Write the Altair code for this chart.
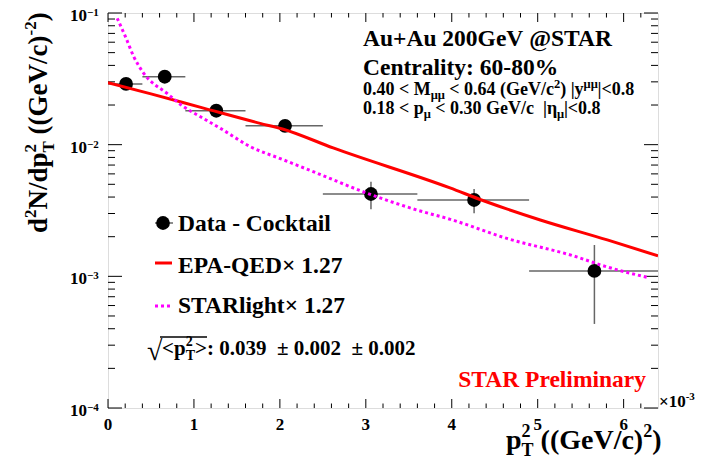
import altair as alt
import pandas as pd

FONT = "Liberation Serif"

# ---------------- data (x in units of 1e-3 (GeV/c)^2) ----------------
pt2 = [0.21, 0.66, 1.26, 2.06, 3.06, 4.26, 5.66]
pt2_lo = [0.0, 0.4, 0.9, 1.6, 2.5, 3.6, 4.9]
pt2_hi = [0.4, 0.9, 1.6, 2.5, 3.6, 4.9, 6.4]
yld = [0.0289, 0.0328, 0.0181, 0.0139, 0.00422, 0.00380, 0.00110]
yld_lo = [0.0277, 0.0314, 0.0173, 0.0133, 0.00323, 0.00301, 0.000435]
yld_hi = [0.0301, 0.0342, 0.0189, 0.0145, 0.00523, 0.00460, 0.00173]

epa_x = [0.0, 0.5, 1.08, 1.77, 2.04, 2.62, 3.98, 4.37, 5.03, 5.81, 6.4]
epa_y = [0.0296, 0.0243, 0.0192, 0.01452, 0.0131, 0.00944, 0.00469, 0.00375, 0.00268, 0.00189, 0.00143]

sl_x = [0.107, 0.203, 0.300, 0.416, 0.688, 0.881, 1.076, 1.308, 1.657, 2.044,
        2.433, 3.014, 3.595, 3.983, 4.642, 5.416, 5.805, 6.27]
sl_y = [0.0912, 0.0661, 0.0466, 0.0348, 0.0245, 0.0194, 0.0163, 0.0133, 0.00966, 0.00766,
        0.00607, 0.00428, 0.00319, 0.00271, 0.00194, 0.00143, 0.00118, 0.000984]

x_major = [0, 1, 2, 3, 4, 5, 6]
x_major_lab = ["0", "1", "2", "3", "4", "5", "6"]
x_minor = [0.2, 0.4, 0.6, 0.8, 1.2, 1.4, 1.6, 1.8, 2.2, 2.4, 2.6, 2.8, 3.2, 3.4, 3.6, 3.8,
           4.2, 4.4, 4.6, 4.8, 5.2, 5.4, 5.6, 5.8, 6.2]
y_major = [1e-4, 1e-3, 1e-2, 1e-1]
y_major_exp = ["\u22124", "\u22123", "\u22122", "\u22121"]
y_minor = [k * 10.0 ** e for e in (-4, -3, -2) for k in range(2, 10)]

W_PLOT, H_PLOT = 550, 395

XS = alt.Scale(domain=[0, 6.4], nice=False, zero=False)
YS = alt.Scale(type="log", domain=[1e-4, 1e-1], nice=False)


def X(f):
    return alt.X(f, type="quantitative", scale=XS, axis=None)


def Y(f):
    return alt.Y(f, type="quantitative", scale=YS, axis=None)


pts = pd.DataFrame({"x": pt2, "lo": pt2_lo, "hi": pt2_hi, "y": yld, "ylo": yld_lo, "yhi": yld_hi})
df_epa = pd.DataFrame({"x": epa_x, "y": epa_y})
df_sl = pd.DataFrame({"x": sl_x, "y": sl_y})
df_xmaj = pd.DataFrame({"v": x_major, "lab": x_major_lab})
df_xmin = pd.DataFrame({"v": x_minor})
df_ymaj = pd.DataFrame({"v": y_major, "exp": y_major_exp})
df_ymin = pd.DataFrame({"v": y_minor})

ONE = pd.DataFrame({"a": [0]})

# Times/Liberation Serif Bold advance widths (1/1000 em)
WID = {" ": 250, "\u00a0": 250, "%": 1000, "(": 333, ")": 333, "+": 570, "-": 333, ".": 250,
       "/": 278, ":": 333, "<": 570, ">": 570, "@": 930, "|": 220, "\u00d7": 570, "\u00b1": 570,
       "\u03bc": 556, "\u03b7": 556, "\u2212": 570,
       "A": 722, "C": 722, "D": 722, "E": 667, "G": 778, "M": 944, "N": 722, "P": 611,
       "Q": 778, "R": 722, "S": 556, "T": 667, "V": 722,
       "a": 500, "c": 444, "d": 556, "e": 444, "g": 500, "h": 556, "i": 278, "k": 556,
       "l": 278, "n": 556, "o": 500, "p": 556, "r": 444, "t": 333, "u": 556, "y": 500}


def tw(s, size):
    return sum(WID.get(c, 500) for c in s) / 1000.0 * size


def txt(s, x, y, size, color="black", align="left", angle=0, weight="bold"):
    return alt.Chart(ONE).mark_text(
        text=s.replace(" ", "\u00a0"), font=FONT, fontSize=size, fontWeight=weight, color=color,
        align=align, baseline="alphabetic", angle=angle
    ).encode(x=alt.value(x), y=alt.value(y))


def run_h(items, x0, y0):
    """items: list of groups; each group is a list of (text, size, shift) placed at same x."""
    out = []
    x = x0
    for grp in items:
        adv = 0
        for s, size, shift in grp:
            body = s.lstrip(" ")
            lead = tw(s[:len(s) - len(body)], size)
            out.append(txt(body, x + lead, y0 + shift, size))
            adv = max(adv, tw(s, size))
        x += adv
    return out


def run_v(items, x0, y0):
    """rotated 270 deg, reading upward; shift is toward +x (glyph-down)."""
    out = []
    y = y0
    for grp in items:
        adv = 0
        for s, size, shift in grp:
            body = s.lstrip(" ")
            lead = tw(s[:len(s) - len(body)], size)
            out.append(txt(body, x0 + shift, y - lead, size, angle=270))
            adv = max(adv, tw(s, size))
        y -= adv
    return out


layers = []

# ---- ticks (inward, all four sides) ----
tick = dict(color="black", strokeWidth=1)
layers += [
    alt.Chart(df_xmaj).mark_rule(**tick).encode(x=X("v"), y=alt.value(H_PLOT), y2=alt.value(H_PLOT - 9)),
    alt.Chart(df_xmaj).mark_rule(**tick).encode(x=X("v"), y=alt.value(0), y2=alt.value(9)),
    alt.Chart(df_xmin).mark_rule(**tick).encode(x=X("v"), y=alt.value(H_PLOT), y2=alt.value(H_PLOT - 4.5)),
    alt.Chart(df_xmin).mark_rule(**tick).encode(x=X("v"), y=alt.value(0), y2=alt.value(4.5)),
    alt.Chart(df_ymaj).mark_rule(**tick).encode(y=Y("v"), x=alt.value(0), x2=alt.value(14)),
    alt.Chart(df_ymaj).mark_rule(**tick).encode(y=Y("v"), x=alt.value(W_PLOT), x2=alt.value(W_PLOT - 14)),
    alt.Chart(df_ymin).mark_rule(**tick).encode(y=Y("v"), x=alt.value(0), x2=alt.value(7)),
    alt.Chart(df_ymin).mark_rule(**tick).encode(y=Y("v"), x=alt.value(W_PLOT), x2=alt.value(W_PLOT - 7)),
]

# ---- tick labels ----
layers += [
    alt.Chart(df_xmaj).mark_text(font=FONT, fontSize=17, fontWeight="bold", align="center",
                                 baseline="alphabetic").encode(
        x=X("v"), y=alt.value(H_PLOT + 22), text=alt.Text("lab:N")),
    alt.Chart(df_ymaj).mark_text(font=FONT, fontSize=17, fontWeight="bold", align="right",
                                 baseline="alphabetic", dy=8).encode(
        y=Y("v"), x=alt.value(-21), text=alt.value("10")),
    alt.Chart(df_ymaj).mark_text(font=FONT, fontSize=11, fontWeight="bold", align="left",
                                 baseline="alphabetic", dy=3).encode(
        y=Y("v"), x=alt.value(-21), text=alt.Text("exp:N")),
]

# ---- data ----
layers += [
    alt.Chart(pts).mark_rule(color="#666666", strokeWidth=1.5).encode(x=X("lo"), x2="hi", y=Y("y")),
    alt.Chart(pts).mark_rule(color="#666666", strokeWidth=1.5).encode(x=X("x"), y=Y("ylo"), y2="yhi"),
    alt.Chart(pts).mark_circle(size=190, color="black", opacity=1).encode(x=X("x"), y=Y("y")),
    alt.Chart(df_epa).mark_line(color="#ff0000", strokeWidth=3, clip=True,
                                interpolate="monotone").encode(x=X("x"), y=Y("y")),
    alt.Chart(df_sl).mark_line(color="#ff00ff", strokeWidth=3, strokeDash=[3, 3], clip=True,
                               interpolate="monotone").encode(x=X("x"), y=Y("y")),
]

# ---- top-right labels ----
layers += [
    txt("Au+Au 200GeV @STAR", 255, 33, 23.5),
    txt("Centrality: 60-80%", 255, 62, 23.5),
]
S, s = 18, 12.5
layers += run_h([[("0.40 < M", S, 0)], [("\u03bc\u03bc", s, 4)], [(" < 0.64 (GeV/c", S, 0)],
                 [("2", s, -7)], [(") |y", S, 0)], [("\u03bc\u03bc", s, -7)], [("|<0.8", S, 0)]],
                255, 82)
layers += run_h([[("0.18 < p", S, 0)], [("\u03bc", s, 4)], [(" < 0.30 GeV/c  |\u03b7", S, 0)],
                 [("\u03bc", s, 4)], [("|<0.8", S, 0)]],
                255, 101)

# ---- legend ----
layers += [
    alt.Chart(ONE).mark_rule(color="#666666", strokeWidth=1.5).encode(
        x=alt.value(47), x2=alt.value(65), y=alt.value(210)),
    alt.Chart(ONE).mark_circle(size=190, color="black", opacity=1).encode(x=alt.value(55), y=alt.value(210)),
    txt("Data - Cocktail", 70, 218, 23.5),
    alt.Chart(ONE).mark_rule(color="#ff0000", strokeWidth=3).encode(
        x=alt.value(47), x2=alt.value(64), y=alt.value(250)),
    txt("EPA-QED\u00d7 1.27", 70, 260, 23.5),
    alt.Chart(ONE).mark_rule(color="#ff00ff", strokeWidth=3, strokeDash=[3, 3]).encode(
        x=alt.value(47), x2=alt.value(65), y=alt.value(293)),
    txt("STARlight\u00d7 1.27", 70, 300, 23.5),
]

# ---- sqrt(<pT^2>) ----
layers += [
    txt("\u221a", 39, 347, 28, weight="normal"),
    alt.Chart(ONE).mark_rule(color="black", strokeWidth=1.5).encode(
        x=alt.value(52), x2=alt.value(99), y=alt.value(324)),
]
layers += run_h([[("<p", 21, 0)], [("T", 14, 5), ("2", 14, -9)],
                 [(">: 0.039  \u00b1 0.002  \u00b1 0.002", 21, 0)]], 54, 342)

layers += [
    txt("STAR Preliminary", 538, 374, 23.5, color="#ff0000", align="right"),
    txt("\u00d710", 551, 394, 17),
    txt("-3", 551 + tw("\u00d710", 17), 387, 11),
]

# ---- axis titles ----
layers += run_h([[("p", 28, 0)], [("T", 18, 7), ("2", 18, -12)], [(" ((GeV/c)", 28, 0)],
                 [("2", 18, -12)], [(")", 28, 0)]], 398, 436)
layers += run_v([[("d", 27, 0)], [("2", 17, -11)], [("N/dp", 27, 0)], [("T", 17, 7), ("2", 17, -11)],
                 [(" ((GeV/c)", 27, 0)], [("-2", 17, -11)], [(")", 27, 0)]], -61, 220)

chart = alt.layer(*layers).properties(
    width=W_PLOT, height=H_PLOT,
    autosize=alt.AutoSizeParams(type="none"),
    padding={"left": 100, "top": 5, "right": 37, "bottom": 51},
).configure_view(stroke="black", strokeWidth=2).configure(background="white")

chart.save("out.html", embed_options={"renderer": "svg", "actions": False})
